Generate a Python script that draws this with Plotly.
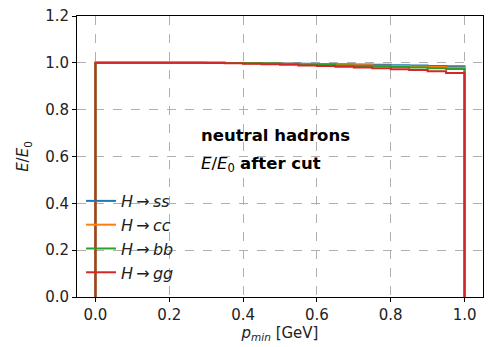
import plotly.graph_objects as go

edges = [round(i * 0.05, 2) for i in range(21)]
labels = ["<i>H</i>\u2009\u2192\u2009<i>ss</i>", "<i>H</i>\u2009\u2192\u2009<i>cc</i>",
          "<i>H</i>\u2009\u2192\u2009<i>bb</i>", "<i>H</i>\u2009\u2192\u2009<i>gg</i>"]
colors = ["#1f77b4", "#ff7f0e", "#2ca02c", "#d62728"]

ss = [1.0, 1.0, 1.0, 1.0, 1.0, 1.0, 1.0, 0.999, 0.999, 0.998, 0.997, 0.996, 0.995,
      0.994, 0.993, 0.992, 0.990, 0.989, 0.987, 0.985]
cc = [1.0, 1.0, 1.0, 1.0, 1.0, 1.0, 1.0, 0.999, 0.998, 0.997, 0.996, 0.995, 0.993,
      0.992, 0.990, 0.988, 0.986, 0.984, 0.982, 0.979]
bb = [1.0, 1.0, 1.0, 1.0, 1.0, 1.0, 1.0, 0.999, 0.998, 0.997, 0.995, 0.993, 0.991,
      0.989, 0.987, 0.985, 0.982, 0.980, 0.977, 0.974]
gg = [1.0, 1.0, 1.0, 1.0, 1.0, 1.0, 0.999, 0.998, 0.996, 0.994, 0.992, 0.989, 0.986,
      0.983, 0.980, 0.977, 0.973, 0.969, 0.964, 0.957]
series = [ss, cc, bb, gg]

fig = go.Figure()
for name, col, vals in zip(labels, colors, series):
    xs = [edges[0]] + edges[:-1] + [edges[-1], edges[-1]]
    ys = [0] + vals + [vals[-1], 0]
    fig.add_trace(go.Scatter(x=xs, y=ys, mode="lines", line_shape="hv",
                             line=dict(color=col, width=2), name=name))

font = "DejaVu Sans"
fig.add_annotation(x=0.28, y=0.69, xref="x", yref="y", text="<b>neutral hadrons</b>",
                   showarrow=False, xanchor="left", yanchor="middle",
                   font=dict(family=font, size=16.5, color="black"))
fig.add_annotation(x=0.28, y=0.565, xref="x", yref="y",
                   text="<i>E</i>/<i>E</i><sub>0</sub> <b>after cut</b>",
                   showarrow=False, xanchor="left", yanchor="middle",
                   font=dict(family=font, size=16.5, color="black"))

axis_common = dict(showline=True, linecolor="black", linewidth=1, mirror=True,
                   ticks="outside", ticklen=4, tickcolor="black",
                   showgrid=True, gridcolor="#b0b0b0", griddash="dash", gridwidth=1,
                   zeroline=False, tickfont=dict(family=font, size=15, color="#222"))
fig.update_xaxes(range=[-0.05, 1.05], tickvals=[0, 0.2, 0.4, 0.6, 0.8, 1.0],
                 ticktext=["0.0", "0.2", "0.4", "0.6", "0.8", "1.0"],
                 title=dict(text="<i>p<sub>min</sub></i> [GeV]", standoff=4,
                            font=dict(family=font, size=15, color="#222")),
                 **axis_common)
fig.update_yaxes(range=[0, 1.2], tickvals=[0, 0.2, 0.4, 0.6, 0.8, 1.0, 1.2],
                 ticktext=["0.0", "0.2", "0.4", "0.6", "0.8", "1.0", "1.2"],
                 title=dict(text="<i>E</i>/<i>E</i><sub>0</sub>", standoff=12,
                            font=dict(family=font, size=15, color="#222")),
                 **axis_common)
fig.update_layout(width=491, height=347, margin=dict(l=77, r=7, t=11, b=50),
                  plot_bgcolor="white", paper_bgcolor="white",
                  legend=dict(x=0.01, y=0.025, xanchor="left", yanchor="bottom",
                              bgcolor="rgba(0,0,0,0)",
                              font=dict(family=font, size=16, color="#222")),
                  showlegend=True)
fig.write_html("out.html", config={"displayModeBar": False},
               post_script="document.body.style.margin='0';")
